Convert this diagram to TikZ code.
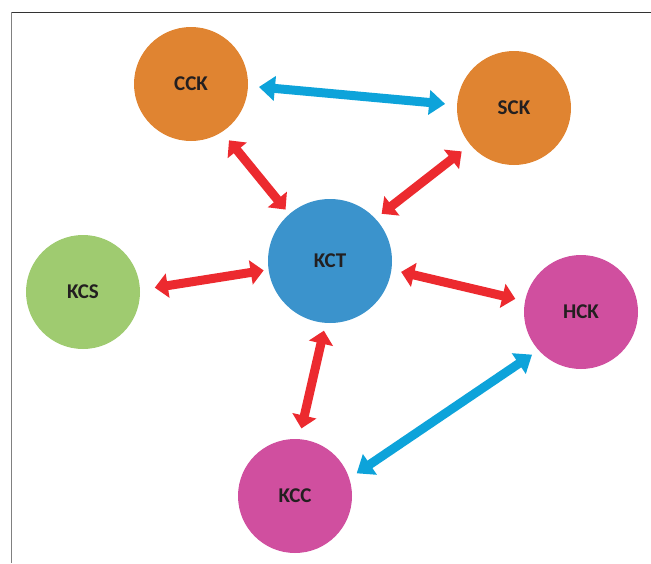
\documentclass[tikz,border=0pt]{standalone}
\usepackage{fontspec}
\setmainfont{Carlito}
\usetikzlibrary{arrows.meta}
\definecolor{orng}{HTML}{E08431}
\definecolor{ctrblue}{HTML}{3B93CC}
\definecolor{grn}{HTML}{9FCB70}
\definecolor{mag}{HTML}{D04F9F}
\definecolor{redarr}{HTML}{EC2A2F}
\definecolor{bluearr}{HTML}{0DA3DA}
\definecolor{txt}{HTML}{231F20}
\begin{document}
\begin{tikzpicture}[x=1pt,y=-1pt,
  unit/.style={circle,inner sep=0pt,outer sep=0pt,minimum size=114pt,
    text=txt,font=\fontsize{21}{24}\selectfont\bfseries},
  rel/.style={draw=redarr,line width=9pt,
    {Triangle[width=24pt,length=13pt]}-{Triangle[width=24pt,length=13pt]}},
  link/.style={draw=bluearr,line width=9pt,
    {Triangle[width=24pt,length=16pt]}-{Triangle[width=24pt,length=16pt]}}]
\useasboundingbox (0,0) rectangle (651,563);
\draw[black!80] (651,12) -- (11,12);
\draw[black!50] (11,12) -- (11,563);
\node[unit,fill=orng] (cck) at (191,84) {CCK};
\node[unit,fill=orng] (sck) at (514,108) {SCK};
\node[unit,fill=ctrblue,minimum size=124pt] (kct) at (330,261) {KCT};
\node[unit,fill=grn] (kcs) at (83,292) {KCS};
\node[unit,fill=mag] (hck) at (581,312) {HCK};
\node[unit,fill=mag] (kcc) at (295,496) {KCC};
\draw[link,shorten <=11pt,shorten >=12pt] (cck.-2) -- (sck.177);
\draw[link,shorten <=8pt,shorten >=9pt] (hck.222) -- (kcc.18);
\draw[rel,shorten <=11pt,shorten >=6pt] (cck.-57) -- (kct.131);
\draw[rel,shorten <=11pt,shorten >=8pt] (sck.220) -- (kct.43);
\draw[rel,shorten <=15pt,shorten >=5pt] (kcs.2) -- (kct.188);
\draw[rel,shorten <=10pt,shorten >=10pt] (kct.-8) -- (hck.169);
\draw[rel,shorten <=8pt,shorten >=11pt] (kct.-94) -- (kcc.86);
\end{tikzpicture}
\end{document}
